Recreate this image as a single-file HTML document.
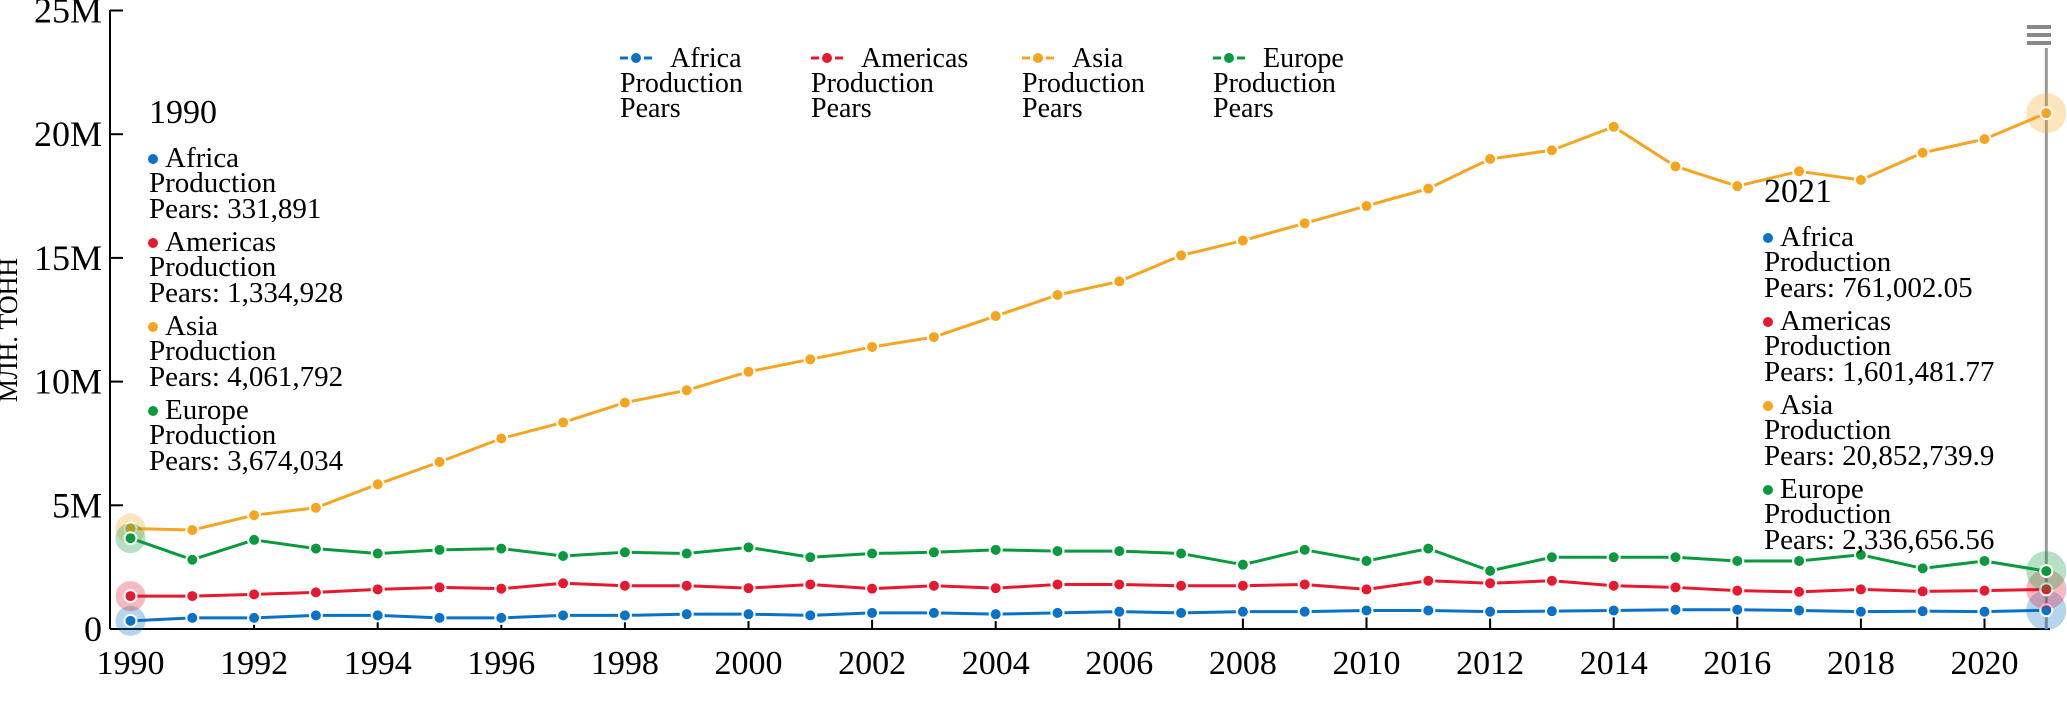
<!DOCTYPE html>
<html><head><meta charset="utf-8"><style>
html,body{margin:0;padding:0;background:#fff;}
svg{display:block;font-family:"Liberation Serif","Noto Serif CJK SC",serif;}
</style></head><body>
<svg id="chart" width="2067" height="726" viewBox="0 0 2067 726">
<g id="axes"></g>
<g id="series"></g>
<g id="legend"></g>
<g id="tips"></g>
</svg>
<script>
const years = [];
for (let y = 1990; y <= 2021; y++) years.push(y);
const seriesNames = ["Africa", "Americas", "Asia", "Europe"];
const seriesColors = ["#0a72c8", "#e8192f", "#f7a51f", "#0a9a3e"];
const africa = [0.33,0.45,0.45,0.55,0.55,0.45,0.45,0.55,0.55,0.6,0.6,0.55,0.65,0.65,0.6,0.65,0.7,0.65,0.7,0.7,0.75,0.75,0.7,0.72,0.75,0.78,0.78,0.75,0.7,0.72,0.7,0.76];
const americas = [1.33,1.33,1.4,1.48,1.6,1.68,1.63,1.85,1.75,1.75,1.65,1.8,1.63,1.75,1.65,1.8,1.8,1.75,1.75,1.8,1.6,1.95,1.85,1.95,1.75,1.68,1.55,1.5,1.6,1.52,1.55,1.6];
const asia = [4.06,4.0,4.6,4.9,5.85,6.75,7.7,8.35,9.15,9.65,10.4,10.9,11.4,11.8,12.65,13.5,14.05,15.1,15.7,16.4,17.1,17.8,19.0,19.35,20.3,18.7,17.9,18.5,18.15,19.25,19.8,20.85];
const europe = [3.67,2.8,3.6,3.25,3.05,3.2,3.25,2.95,3.1,3.05,3.3,2.9,3.05,3.1,3.2,3.15,3.15,3.05,2.6,3.2,2.75,3.25,2.35,2.9,2.9,2.9,2.75,2.75,3.0,2.45,2.75,2.34];
const yTicks = [0,5,10,15,20,25];
const yTickLabels = ["0","5M","10M","15M","20M","25M"];
const xTicks = [1990,1992,1994,1996,1998,2000,2002,2004,2006,2008,2010,2012,2014,2016,2018,2020];
const tip1990 = ["331,891","1,334,928","4,061,792","3,674,034"];
const tip2021 = ["761,002.05","1,601,481.77","20,852,739.9","2,336,656.56"];

const NS = "http://www.w3.org/2000/svg";
function mk(tag, attrs, parent){const e=document.createElementNS(NS,tag);for(const k in attrs)e.setAttribute(k,attrs[k]);parent.appendChild(e);return e;}
const X = y => 130.5 + (y-1990)*61.8;
const Y = v => 629 - v*24.74;
const axes = document.getElementById('axes');
const AX = 110;
let e;
e = mk('line',{x1:AX,y1:10,x2:AX,y2:629,stroke:'#000','stroke-width':2},axes);


e = mk('line',{x1:AX,y1:629,x2:2050,y2:629,stroke:'#000','stroke-width':2},axes);


yTicks.forEach((t,i)=>{
  const l = mk('line',{x1:AX,y1:Y(t),x2:AX+13,y2:Y(t),stroke:'#000','stroke-width':2},axes);
  
  
  const tx = mk('text',{x:AX-8,y:Y(t)+12,'text-anchor':'end','font-size':36},axes);
  tx.textContent = yTickLabels[i];
  
  
});
xTicks.forEach(t=>{
  const l = mk('line',{x1:X(t),y1:629,x2:X(t),y2:616,stroke:'#000','stroke-width':2},axes);
  
  
  const tx = mk('text',{x:X(t),y:674,'text-anchor':'middle','font-size':34},axes);
  tx.textContent = t;
  
  
});
e = mk('text',{x:0,y:0,'text-anchor':'middle','font-size':26,transform:'translate(17,330) rotate(-90)'},axes);
e.textContent = 'МЛН. ТОНН';



e = mk('line',{x1:X(2021),y1:48,x2:X(2021),y2:629,stroke:'#999','stroke-width':3},axes);


const menu = mk('g',{},axes);


[27,35,43].forEach(yy=>mk('rect',{x:2027,y:yy-2,width:24,height:4,fill:'#888'},menu));

const data = [africa, americas, asia, europe];
const sg = document.getElementById('series');
data.forEach((vals,si)=>{
  const g = mk('g',{},sg);
  
  
  const pts = vals.map((v,i)=>X(years[i])+','+Y(v)).join(' ');
  const pl = mk('polyline',{points:pts,fill:'none',stroke:seriesColors[si],'stroke-width':3,'stroke-linejoin':'round'},g);
  
  
  [0, vals.length-1].forEach(i=>{
    const h = mk('circle',{cx:X(years[i]),cy:Y(vals[i]),r:i===0?15:20,fill:seriesColors[si],'fill-opacity':0.3},g);
    
    
  });
  vals.forEach((v,i)=>{
    const c = mk('circle',{cx:X(years[i]),cy:Y(v),r:6,fill:seriesColors[si],stroke:'#fff','stroke-width':2},g);
    
    
  });
});

const lg = document.getElementById('legend');
const lgX = [620, 811, 1022, 1213];
seriesNames.forEach((n,i)=>{
  const g = mk('g',{},lg);
  
  
  mk('line',{x1:lgX[i],y1:58,x2:lgX[i]+32,y2:58,stroke:seriesColors[i],'stroke-width':3,'stroke-dasharray':'8,4'},g);
  mk('circle',{cx:lgX[i]+16,cy:58,r:5,fill:seriesColors[i]},g);
  const t = mk('text',{x:lgX[i]+50,y:67,'font-size':28},g);
  t.textContent = n;
  const t2 = mk('text',{x:lgX[i],y:92,'font-size':28},g);
  t2.textContent = 'Production';
  const t3 = mk('text',{x:lgX[i],y:117,'font-size':28},g);
  t3.textContent = 'Pears';
});

function tip(x, y0, year, vals, name){
  const g = mk('g',{},document.getElementById('tips'));
  
  
  const h = mk('text',{x:x,y:y0,'font-size':34},g);
  h.textContent = year;
  seriesNames.forEach((n,i)=>{
    const by = y0 + 44 + i*84;
    mk('circle',{cx:x+4,cy:by-8,r:5,fill:seriesColors[i]},g);
    const a = mk('text',{x:x+16,y:by,'font-size':29},g); a.textContent = n;
    const b = mk('text',{x:x,y:by+25,'font-size':29},g); b.textContent = 'Production';
    const c = mk('text',{x:x,y:by+51,'font-size':29},g); c.textContent = 'Pears: '+vals[i];
  });
}
tip(149, 123, '1990', tip1990, 'tooltip-1990');
tip(1764, 202, '2021', tip2021, 'tooltip-2021');
</script>
</body></html>
